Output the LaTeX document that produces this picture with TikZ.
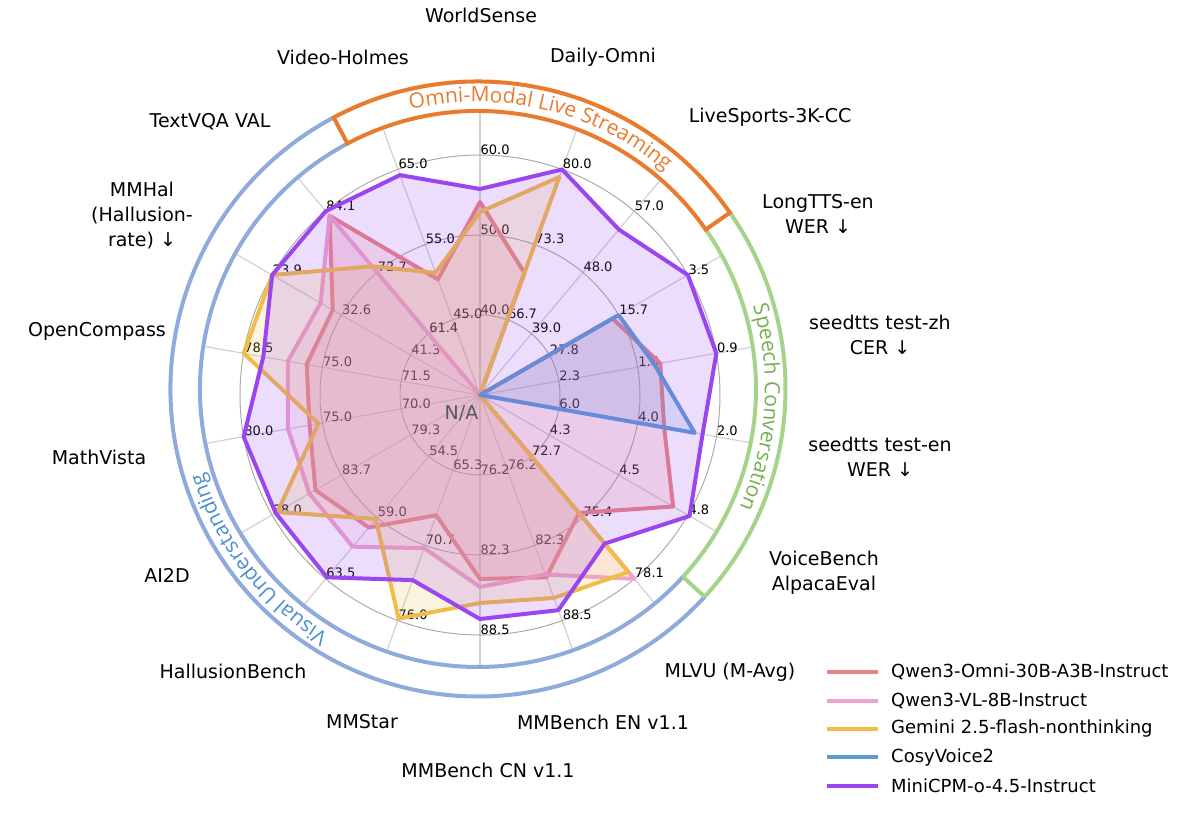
\documentclass[tikz,border=0pt]{standalone}
\usepackage{fontspec}
\setmainfont{DejaVu Sans}
\newfontfamily\bandfont{Open Sans}
\newcommand\bandtxt{\bandfont\fontsize{21}{21}\selectfont}
\usetikzlibrary{decorations.text}

\definecolor{qomni}{HTML}{EB8484}
\definecolor{qvl}{HTML}{F0A3D2}
\definecolor{gemini}{HTML}{F0BE46}
\definecolor{cosy}{HTML}{5B9BD5}
\definecolor{minicpm}{HTML}{9B45F0}
\definecolor{ringorange}{HTML}{E97B2F}
\definecolor{ringgreen}{HTML}{A6D38A}
\definecolor{ringblue}{HTML}{8FAADC}
\definecolor{txtgreen}{HTML}{74B052}
\definecolor{txtblue}{HTML}{4A8FD0}

\tikzset{
  ticklab/.style={font=\fontsize{13}{13}\selectfont, anchor=south west, inner sep=0.5pt},
  axlab/.style={font=\fontsize{19}{25}\selectfont, align=center, inner sep=0pt},
  leglab/.style={font=\fontsize{18}{18}\selectfont, anchor=west, inner sep=0pt},
  spoke/.style={draw=black!18, line width=1.2pt},
  gridring/.style={draw=black!33, line width=1pt},
  series/.style={draw=#1, fill=#1, fill opacity=0.18, line width=4pt, line join=round},
  legline/.style={draw=#1, line width=4pt},
  band/.style={draw=#1, line width=4pt},
}

\begin{document}
\begin{tikzpicture}[x=1pt, y=1pt]
  \useasboundingbox (-480,-424) rectangle (720,395);
  \coordinate (c) at (0,0);
  \coordinate (rc) at (-2,6);

  \foreach \a in {90,70,...,-250}
    \draw[spoke] (c) -- (\a:{278-2*cos(\a)+6*sin(\a)});
  \foreach \r in {80,160,240}
    \draw[gridring] (c) circle[radius=\r];

  \foreach \a/\p/\q/\s in {90/40.0/50.0/60.0, 70/66.7/73.3/80.0, 50/39.0/48.0/57.0,
      30/27.8/15.7/3.5, 10/2.3/1.6/0.9, -10/6.0/4.0/2.0, -30/4.3/4.5/4.8,
      -50/72.7/75.4/78.1, -70/76.2/82.3/88.5, -90/76.2/82.3/88.5, -110/65.3/70.7/76.0,
      -130/54.5/59.0/63.5, -150/79.3/83.7/88.0, -170/70.0/75.0/80.0, 170/71.5/75.0/78.5,
      150/41.3/32.6/23.9, 130/61.4/72.7/84.1, 110/45.0/55.0/65.0}{
    \node[ticklab] (tk\a-1) at (\a:80) {\p};
    \node[ticklab] (tk\a-2) at (\a:160) {\q};
    \node[ticklab] (tk\a-3) at (\a:240) {\s};
  }

  \draw[series=qomni] (90:193) -- (70:130) -- (50:0) -- (30:153) -- (10:183) -- (-10:187)
    -- (-30:223) -- (-50:154) -- (-70:194) -- (-90:184) -- (-110:128) -- (-130:173)
    -- (-150:190) -- (-170:173) -- (170:176) -- (150:170) -- (130:234) -- (110:123) -- cycle;
  \draw[series=qvl] (90:0) -- (70:0) -- (50:0) -- (30:0) -- (10:0) -- (-10:0)
    -- (-30:0) -- (-50:240) -- (-70:191) -- (-90:192) -- (-110:163) -- (-130:198)
    -- (-150:197) -- (-170:195) -- (170:195) -- (150:184) -- (130:234) -- (110:0) -- cycle;
  \draw[series=gemini] (90:183) -- (70:232) -- (50:0) -- (30:0) -- (10:0) -- (-10:0)
    -- (-30:0) -- (-50:231) -- (-70:216) -- (-90:208) -- (-110:238) -- (-130:162)
    -- (-150:234) -- (-170:164) -- (170:240) -- (150:240) -- (130:168) -- (110:130) -- cycle;
  \draw[series=cosy] (90:0) -- (50:0) -- (30:160) -- (10:177) -- (-10:218) -- (-30:0) -- cycle;
  \draw[series=minicpm] (90:206) -- (70:240) -- (50:216) -- (30:240) -- (10:240) -- (-10:226)
    -- (-30:242) -- (-50:194) -- (-70:229) -- (-90:224) -- (-110:197) -- (-130:238)
    -- (-150:236) -- (-170:240) -- (170:220) -- (150:240) -- (130:240) -- (110:234) -- cycle;

  \draw[band=ringblue] (rc) ++(118:278) arc[start angle=118, end angle=317.5, radius=278];
  \draw[band=ringblue] (rc) ++(118:307.5) arc[start angle=118, end angle=317.5, radius=307.5];
  \draw[band=ringgreen] (rc) ++(-42.5:278) arc[start angle=-42.5, end angle=35, radius=278];
  \draw[band=ringgreen] (rc) ++(-42.5:307.5) arc[start angle=-42.5, end angle=35, radius=307.5];
  \draw[band=ringgreen] (rc) ++(-42.5:278) -- ++(-42.5:29.5);
  \draw[band=ringorange] (rc) ++(35:278) arc[start angle=35, end angle=118, radius=278]
    -- ++(118:29.5) arc[start angle=118, end angle=35, radius=307.5] -- cycle;

  \path[decorate, decoration={text along path, text align=center,
      text={|\bandtxt\color{ringorange}|Omni-Modal Live Streaming}}]
    (rc) ++(118:287) arc[start angle=118, end angle=35, radius=287];
  \path[decorate, decoration={text along path, text align=center,
      text={|\bandtxt\color{txtgreen}|Speech Conversation}}]
    (rc) ++(35:287) arc[start angle=35, end angle=-42.5, radius=287];
  \path[decorate, decoration={text along path, text align=center,
      text={|\bandtxt\color{txtblue}|Visual Understanding}}]
    (rc) ++(317.5:287) arc[start angle=317.5, end angle=118, radius=287];

  \node[axlab] (worldsense) at (1,380) {WorldSense};
  \node[axlab] (dailyomni) at (123,338) {Daily-Omni};
  \node[axlab] (livesports) at (290,278) {LiveSports-3K-CC};
  \node[axlab] (longtts) at (338,181.5) {LongTTS-en\\WER ↓};
  \node[axlab] (seedzh) at (400,60.5) {seedtts test-zh\\CER ↓};
  \node[axlab] (seeden) at (400,-61.5) {seedtts test-en\\WER ↓};
  \node[axlab] (voicebench) at (344,-178) {VoiceBench\\AlpacaEval};
  \node[axlab] (mlvu) at (250,-277) {MLVU (M-Avg)};
  \node[axlab] (mmben) at (123,-327) {MMBench EN v1.1};
  \node[axlab] (mmbcn) at (8,-375) {MMBench CN v1.1};
  \node[axlab] (mmstar) at (-118,-327) {MMStar};
  \node[axlab] (hallbench) at (-247,-276) {HallusionBench};
  \node[axlab] (ai2d) at (-313,-180) {AI2D};
  \node[axlab] (mathvista) at (-381,-62) {MathVista};
  \node[axlab] (opencompass) at (-383,64) {OpenCompass};
  \node[axlab] (mmhal) at (-338,179) {MMHal\\(Hallusion-\\rate) ↓};
  \node[axlab] (textvqa) at (-270,273) {TextVQA VAL};
  \node[axlab] (videoholmes) at (-137,338) {Video-Holmes};

  \node[font=\fontsize{19}{19}\selectfont, text=black!65, inner sep=0pt] (na) at (-18.5,-18.5) {N/A};

  \foreach \col/\name [count=\i from 0] in {qomni/Qwen3-Omni-30B-A3B-Instruct,
      qvl/Qwen3-VL-8B-Instruct, gemini/Gemini 2.5-flash-nonthinking,
      cosy/CosyVoice2, minicpm/MiniCPM-o-4.5-Instruct}{
    \draw[legline=\col] (346.7,{-277.3-28.35*\i}) -- ++(51.6,0);
    \node[leglab] (leg\i) at (411,{-277.3-28.35*\i}) {\name};
  }
\end{tikzpicture}
\end{document}
